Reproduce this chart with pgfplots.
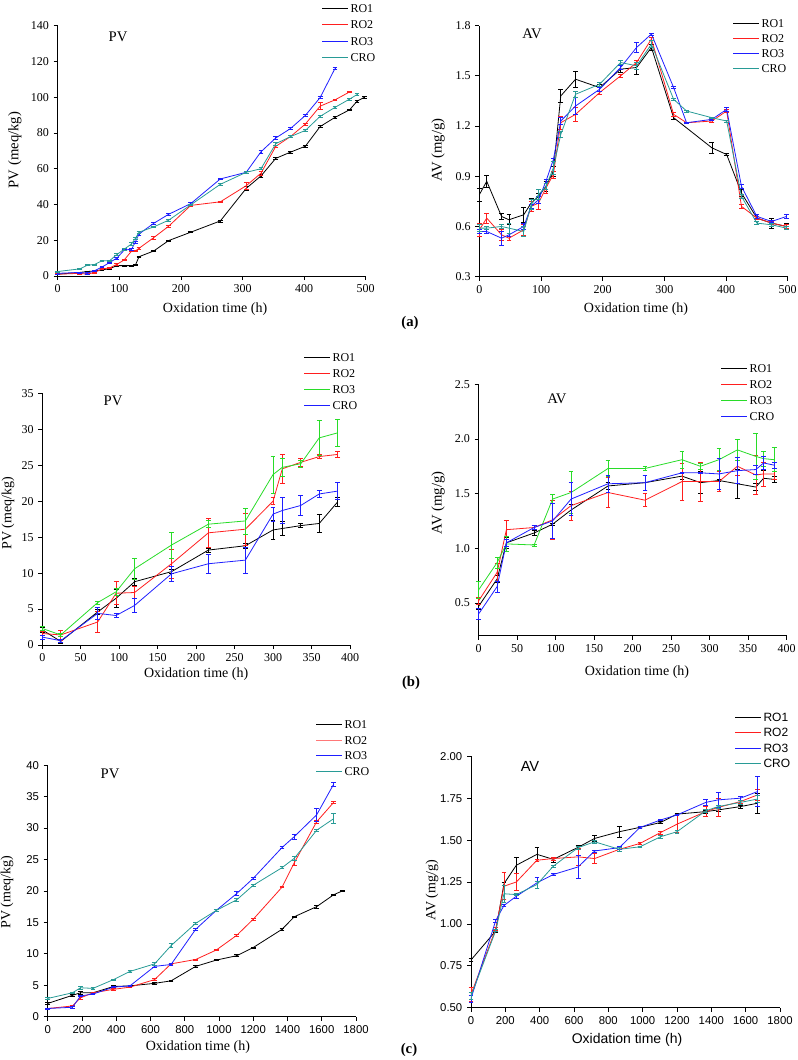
\documentclass[border=0pt]{standalone}
\usepackage{fontspec}
\setmainfont{Liberation Serif}
\setsansfont{Liberation Sans}
\usepackage{pgfplots}
\pgfplotsset{compat=1.18}

\definecolor{cred}{RGB}{255,30,30}
\definecolor{cblue}{RGB}{30,30,255}
\definecolor{cteal}{RGB}{40,155,150}
\definecolor{cgreen}{RGB}{40,220,40}

\pgfplotsset{
  base/.style={
    scale only axis, anchor=south west, clip=false,
    axis x line*=bottom, axis y line*=left,
    axis line style={-, line width=0.6pt},
    every tick/.style={black, line width=0.6pt},
    tick align=outside, major tick length=3pt,
    /pgf/number format/assume math mode=true,
    /pgf/number format/1000 sep={},
    tick label style={font=\fontsize{9}{10}\selectfont},
    label style={font=\fontsize{10.5}{12}\selectfont},
    xlabel={Oxidation time (h)},
  },
  ser/.style={color=#1, no marks, line width=0.6pt,
    error bars/y dir=both, error bars/y explicit,
    error bars/error bar style={line width=0.5pt},
    error bars/error mark options={rotate=90, mark size=1.8pt, line width=0.5pt}},
}
% legend row: x px, y px (row centre), colour, text
\newcommand{\legfont}{\fontsize{9}{10}\selectfont}
\newcommand{\legrow}[4]{\draw[#3, line width=0.75pt] ({#1*0.75pt},{-#2*0.75pt}) -- ++(19.5pt,0pt)
  node[right, inner sep=1.5pt, text=black, font=\legfont] {#4};}

\begin{document}
\begin{tikzpicture}
\useasboundingbox (0,0) rectangle (597.75pt,-795pt);

% ---------- (a) PV
\begin{axis}[base, at={(43.28pt,-207pt)}, width=231pt, height=187.7pt,
  xmin=0, xmax=500, xtick={0,100,...,500},
  ymin=0, ymax=140, ytick={0,20,...,140},
  ylabel={PV (meq/kg)},
  ylabel style={at={(axis description cs:-0.139,0.503)}, anchor=center, font=\fontsize{11}{12}\selectfont},
  xlabel style={at={(axis description cs:0.511,-0.132)}, anchor=center}]
\addplot[ser=black] coordinates {
 (0,1.0) +- (0,0.3) (36,2.0) +- (0,0.3) (48,2.5) +- (0,0.3) (60,2.8) +- (0,0.3)
 (72,3.5) +- (0,0.3) (84,4.0) +- (0,0.3) (96,5.8) +- (0,0.4) (108,5.8) +- (0,0.3)
 (120,5.8) +- (0,0.3) (126,6.0) +- (0,0.3) (132,10.8) +- (0,0.4) (156,14.0) +- (0,0.4)
 (180,19.8) +- (0,0.4) (216,24.5) +- (0,0.3) (264,30.8) +- (0,0.5) (306,49.0) +- (0,1.0)
 (330,56.0) +- (0,0.6) (354,65.8) +- (0,0.4) (378,69.3) +- (0,0.4) (402,72.6) +- (0,0.5)
 (426,83.6) +- (0,0.6) (450,88.7) +- (0,0.4) (474,93.0) +- (0,0.4) (486,97.8) +- (0,0.4)
 (498,100.0) +- (0,0.4)};
\addplot[ser=cred] coordinates {
 (0,1.0) +- (0,0.3) (36,1.5) +- (0,0.3) (48,1.0) +- (0,0.3) (60,2.0) +- (0,0.3)
 (72,4.0) +- (0,0.3) (84,4.5) +- (0,0.3) (96,6.5) +- (0,0.5) (108,9.0) +- (0,0.4)
 (120,14.0) +- (0,0.4) (126,14.0) +- (0,0.3) (132,15.5) +- (0,0.5) (156,21.5) +- (0,0.8)
 (180,27.8) +- (0,0.7) (216,39.5) +- (0,0.5) (264,41.5) +- (0,0.4) (306,50.5) +- (0,2.0)
 (330,57.5) +- (0,1.0) (354,72.5) +- (0,0.8) (378,78.0) +- (0,0.6) (402,85.0) +- (0,0.6)
 (426,95.0) +- (0,2.0) (450,98.5) +- (0,0.5) (474,103.0) +- (0,0.4)};
\addplot[ser=cblue] coordinates {
 (0,1.5) +- (0,0.3) (36,2.0) +- (0,0.3) (48,1.5) +- (0,0.3) (60,3.0) +- (0,0.3)
 (72,5.0) +- (0,0.3) (84,7.5) +- (0,0.4) (96,10.0) +- (0,0.4) (108,14.5) +- (0,0.4)
 (120,15.0) +- (0,0.4) (126,19.0) +- (0,0.6) (132,23.5) +- (0,0.6) (156,29.5) +- (0,0.5)
 (180,34.5) +- (0,0.5) (216,40.5) +- (0,0.5) (264,54.3) +- (0,0.4) (306,58.0) +- (0,0.4)
 (330,69.5) +- (0,0.6) (354,77.2) +- (0,0.8) (378,82.5) +- (0,0.6) (402,89.8) +- (0,0.6)
 (426,99.8) +- (0,0.6) (450,116.0) +- (0,0.5)};
\addplot[ser=cteal] coordinates {
 (0,2.5) +- (0,0.3) (36,4.0) +- (0,0.3) (48,6.0) +- (0,0.3) (60,6.5) +- (0,0.3)
 (72,8.5) +- (0,0.4) (84,8.5) +- (0,0.4) (96,12.0) +- (0,0.5) (108,15.0) +- (0,0.5)
 (120,18.0) +- (0,0.6) (126,21.0) +- (0,0.6) (132,24.5) +- (0,0.6) (156,27.5) +- (0,0.5)
 (180,31.2) +- (0,0.5) (216,39.8) +- (0,0.5) (264,51.3) +- (0,0.5) (306,58.0) +- (0,0.5)
 (330,60.0) +- (0,0.6) (354,74.0) +- (0,0.8) (378,78.0) +- (0,0.5) (402,81.4) +- (0,0.5)
 (426,89.3) +- (0,0.8) (450,94.3) +- (0,0.5) (474,99.0) +- (0,0.5) (486,101.5) +- (0,0.5)};
\node[font=\fontsize{11}{12}\selectfont] at (axis description cs:0.196,0.955) {PV};
\end{axis}

% ---------- (a) AV
\begin{axis}[base, at={(359.5pt,-207.5pt)}, width=231.3pt, height=188.25pt,
  xmin=0, xmax=500, xtick={0,100,...,500},
  ymin=0.3, ymax=1.8, ytick={0.3,0.6,0.9,1.2,1.5,1.8},
  yticklabel style={/pgf/number format/.cd, fixed, fixed zerofill, precision=1},
  ylabel={AV (mg/g)},
  ylabel style={at={(axis description cs:-0.134,0.505)}, anchor=center, font=\fontsize{11}{12}\selectfont},
  xlabel style={at={(axis description cs:0.508,-0.129)}, anchor=center}]
\addplot[ser=black] coordinates {
 (0,0.79) +- (0,0.04) (12,0.87) +- (0,0.035) (36,0.66) +- (0,0.02) (48,0.64) +- (0,0.03)
 (72,0.67) +- (0,0.045) (84,0.74) +- (0,0.03) (96,0.78) +- (0,0.02) (108,0.84) +- (0,0.03)
 (120,0.93) +- (0,0.03) (132,1.38) +- (0,0.04) (156,1.48) +- (0,0.05) (195,1.43) +- (0,0.02)
 (229,1.54) +- (0,0.02) (255,1.55) +- (0,0.04) (279,1.67) +- (0,0.02) (315,1.25) +- (0,0.01)
 (377,1.07) +- (0,0.03) (401,1.03) +- (0,0.005) (425,0.80) +- (0,0.02) (450,0.65) +- (0,0.01)
 (474,0.62) +- (0,0.03) (498,0.60) +- (0,0.02)};
\addplot[ser=cred] coordinates {
 (0,0.58) +- (0,0.04) (12,0.65) +- (0,0.03) (36,0.55) +- (0,0.03) (48,0.53) +- (0,0.01)
 (72,0.58) +- (0,0.03) (84,0.72) +- (0,0.03) (96,0.74) +- (0,0.04) (108,0.83) +- (0,0.03)
 (120,0.91) +- (0,0.02) (132,1.22) +- (0,0.04) (156,1.27) +- (0,0.04) (195,1.40) +- (0,0.01)
 (229,1.50) +- (0,0.01) (255,1.58) +- (0,0.01) (279,1.72) +- (0,0.01) (315,1.27) +- (0,0.01)
 (336,1.22) +- (0,0.005) (377,1.23) +- (0,0.01) (401,1.29) +- (0,0.01) (425,0.72) +- (0,0.01)
 (450,0.65) +- (0,0.01) (474,0.62) +- (0,0.01) (498,0.60) +- (0,0.01)};
\addplot[ser=cblue] coordinates {
 (0,0.57) +- (0,0.01) (12,0.57) +- (0,0.01) (36,0.53) +- (0,0.04) (48,0.55) +- (0,0.01)
 (72,0.60) +- (0,0.02) (84,0.72) +- (0,0.01) (96,0.76) +- (0,0.02) (108,0.87) +- (0,0.01)
 (120,1.00) +- (0,0.01) (132,1.23) +- (0,0.02) (156,1.32) +- (0,0.05) (195,1.42) +- (0,0.01)
 (229,1.55) +- (0,0.01) (255,1.67) +- (0,0.03) (279,1.75) +- (0,0.005) (315,1.43) +- (0,0.005)
 (336,1.22) +- (0,0.005) (377,1.24) +- (0,0.005) (401,1.30) +- (0,0.01) (425,0.84) +- (0,0.01)
 (450,0.66) +- (0,0.01) (474,0.63) +- (0,0.005) (498,0.66) +- (0,0.01)};
\addplot[ser=cteal] coordinates {
 (0,0.59) +- (0,0.02) (12,0.59) +- (0,0.01) (36,0.60) +- (0,0.01) (48,0.59) +- (0,0.03)
 (72,0.57) +- (0,0.03) (84,0.73) +- (0,0.03) (96,0.79) +- (0,0.03) (108,0.84) +- (0,0.02)
 (120,0.95) +- (0,0.04) (132,1.15) +- (0,0.02) (156,1.39) +- (0,0.02) (195,1.45) +- (0,0.01)
 (229,1.58) +- (0,0.01) (255,1.56) +- (0,0.02) (279,1.69) +- (0,0.02) (315,1.36) +- (0,0.005)
 (336,1.29) +- (0,0.005) (377,1.25) +- (0,0.005) (401,1.23) +- (0,0.005) (425,0.78) +- (0,0.01)
 (450,0.62) +- (0,0.01) (474,0.61) +- (0,0.01) (498,0.59) +- (0,0.01)};
\node[font=\fontsize{11}{12}\selectfont] at (axis description cs:0.171,0.968) {AV};
\end{axis}

% ---------- (b) PV
\begin{axis}[base, at={(31.7pt,-483.75pt)}, width=230.8pt, height=188.8pt,
  xmin=0, xmax=400, xtick={0,50,...,400},
  ymin=0, ymax=35, ytick={0,5,...,35},
  ylabel={PV (meq/kg)},
  ylabel style={at={(axis description cs:-0.111,0.524)}, anchor=center},
  xlabel style={at={(axis description cs:0.5,-0.115)}, anchor=center}]
\addplot[ser=black] coordinates {
 (0,2.1) +- (0,0.3) (24,0.5) +- (0,0.2) (72,4.6) +- (0,0.3) (96,6.5) +- (0,1.3)
 (120,8.8) +- (0,0.5) (168,10.2) +- (0,0.3) (216,13.2) +- (0,0.3) (264,13.8) +- (0,0.3)
 (300,16.0) +- (0,1.3) (312,16.2) +- (0,1.0) (336,16.6) +- (0,0.3) (360,16.9) +- (0,1.2)
 (384,19.9) +- (0,0.6)};
\addplot[ser=cred] coordinates {
 (0,1.6) +- (0,0.3) (24,1.4) +- (0,0.7) (72,3.2) +- (0,1.5) (96,7.2) +- (0,1.6)
 (120,7.3) +- (0,0.8) (168,11.3) +- (0,2.0) (216,15.6) +- (0,2.0) (264,16.1) +- (0,2.2)
 (300,20.0) +- (0,0.5) (312,24.5) +- (0,2.0) (336,25.4) +- (0,0.5) (360,26.2) +- (0,0.3)
 (384,26.5) +- (0,0.4)};
\addplot[ser=cgreen] coordinates {
 (0,2.3) +- (0,0.3) (24,1.4) +- (0,0.2) (72,5.9) +- (0,0.2) (96,7.4) +- (0,0.5)
 (120,10.6) +- (0,1.5) (168,13.9) +- (0,1.8) (216,16.8) +- (0,0.5) (264,17.25) +- (0,1.8)
 (300,23.7) +- (0,2.6) (312,24.7) +- (0,1.2) (336,25.2) +- (0,0.5) (360,28.8) +- (0,2.4)
 (384,29.5) +- (0,1.9)};
\addplot[ser=cblue] coordinates {
 (0,1.1) +- (0,0.3) (24,0.6) +- (0,0.2) (72,4.4) +- (0,0.8) (96,4.1) +- (0,0.3)
 (120,5.5) +- (0,1.0) (168,9.9) +- (0,1.0) (216,11.3) +- (0,1.3) (264,11.8) +- (0,1.8)
 (300,18.2) +- (0,1.0) (312,18.7) +- (0,1.8) (336,19.4) +- (0,1.4) (360,21.0) +- (0,0.5)
 (384,21.4) +- (0,1.2)};
\node[font=\fontsize{11}{12}\selectfont] at (axis description cs:0.23,0.97) {PV};
\end{axis}

% ---------- (b) AV
\begin{axis}[base, at={(359pt,-476.8pt)}, width=231pt, height=188.6pt,
  xmin=0, xmax=400, xtick={0,50,...,400},
  ymin=0.2, ymax=2.5, ytick={0.5,1.0,1.5,2.0,2.5},
  yticklabel style={/pgf/number format/.cd, fixed, fixed zerofill, precision=1},
  ylabel={AV (mg/g)},
  ylabel style={at={(axis description cs:-0.132,0.528)}, anchor=center, font=\fontsize{11}{12}\selectfont},
  xlabel style={at={(axis description cs:0.514,-0.144)}, anchor=center}]
\addplot[ser=black] coordinates {
 (0,0.47) +- (0,0.03) (24,0.72) +- (0,0.03) (36,1.05) +- (0,0.05) (72,1.14) +- (0,0.02)
 (96,1.22) +- (0,0.01) (120,1.35) +- (0,0.05) (168,1.57) +- (0,0.03) (216,1.60) +- (0,0.07)
 (264,1.66) +- (0,0.03) (288,1.60) +- (0,0.10) (312,1.62) +- (0,0.01) (336,1.59) +- (0,0.13)
 (360,1.56) +- (0,0.03) (370,1.64) +- (0,0.07) (384,1.63) +- (0,0.03)};
\addplot[ser=cred] coordinates {
 (0,0.52) +- (0,0.03) (24,0.78) +- (0,0.08) (36,1.17) +- (0,0.09) (72,1.19) +- (0,0.02)
 (96,1.26) +- (0,0.18) (120,1.39) +- (0,0.13) (168,1.51) +- (0,0.14) (216,1.44) +- (0,0.06)
 (264,1.61) +- (0,0.17) (288,1.61) +- (0,0.18) (312,1.61) +- (0,0.09) (336,1.75) +- (0,0.08)
 (360,1.67) +- (0,0.18) (370,1.68) +- (0,0.11) (384,1.68) +- (0,0.05)};
\addplot[ser=cgreen] coordinates {
 (0,0.62) +- (0,0.08) (24,0.87) +- (0,0.05) (36,1.04) +- (0,0.07) (72,1.03) +- (0,0.01)
 (96,1.45) +- (0,0.04) (120,1.51) +- (0,0.19) (168,1.73) +- (0,0.07) (216,1.73) +- (0,0.02)
 (264,1.81) +- (0,0.08) (288,1.75) +- (0,0.03) (312,1.81) +- (0,0.10) (336,1.90) +- (0,0.10)
 (360,1.84) +- (0,0.21) (370,1.82) +- (0,0.07) (384,1.81) +- (0,0.11)};
\addplot[ser=cblue] coordinates {
 (0,0.40) +- (0,0.05) (24,0.65) +- (0,0.05) (36,1.05) +- (0,0.03) (72,1.19) +- (0,0.02)
 (96,1.25) +- (0,0.16) (120,1.45) +- (0,0.15) (168,1.59) +- (0,0.08) (216,1.60) +- (0,0.07)
 (264,1.69) +- (0,0.005) (288,1.69) +- (0,0.005) (312,1.68) +- (0,0.14) (336,1.71) +- (0,0.12)
 (360,1.72) +- (0,0.04) (370,1.78) +- (0,0.06) (384,1.76) +- (0,0.03)};
\node[font=\fontsize{11}{12}\selectfont] at (axis description cs:0.254,0.942) {AV};
\end{axis}

% ---------- (c) PV
\begin{axis}[base, at={(35.8pt,-762.5pt)}, width=231.2pt, height=188.6pt,
  xmin=0, xmax=1800, xtick={0,200,...,1800},
  ymin=0, ymax=40, ytick={0,5,...,40},
  tick label style={font=\sffamily\fontsize{8.5}{10}\selectfont},
  ylabel={PV (meq/kg)},
  ylabel style={at={(axis description cs:-0.132,0.495)}, anchor=center},
  xlabel style={at={(axis description cs:0.487,-0.121)}, anchor=center}]
\addplot[ser=black] coordinates {
 (0,2.1) +- (0,0.15) (144,3.4) +- (0,0.2) (192,3.8) +- (0,0.2) (264,3.8) +- (0,0.1)
 (384,4.8) +- (0,0.15) (480,4.9) +- (0,0.1) (624,5.3) +- (0,0.15) (720,5.7) +- (0,0.15)
 (864,8.0) +- (0,0.1) (984,9.0) +- (0,0.1) (1104,9.7) +- (0,0.15) (1200,11.0) +- (0,0.1)
 (1368,13.9) +- (0,0.15) (1440,15.9) +- (0,0.1) (1570,17.5) +- (0,0.2) (1670,19.4) +- (0,0.1)
 (1720,20.0) +- (0,0.1)};
\addplot[ser=cred] coordinates {
 (0,1.3) +- (0,0.1) (144,1.7) +- (0,0.1) (192,3.0) +- (0,0.2) (264,3.8) +- (0,0.1)
 (384,4.35) +- (0,0.15) (480,4.7) +- (0,0.1) (624,5.9) +- (0,0.15) (720,8.4) +- (0,0.1)
 (864,9.1) +- (0,0.1) (984,10.6) +- (0,0.1) (1104,12.95) +- (0,0.15) (1200,15.5) +- (0,0.2)
 (1368,20.6) +- (0,0.1) (1440,24.5) +- (0,0.4) (1570,31.0) +- (0,0.3) (1670,34.1) +- (0,0.1)};
\addplot[ser=cblue] coordinates {
 (0,1.3) +- (0,0.1) (144,1.5) +- (0,0.15) (192,3.3) +- (0,0.1) (264,3.6) +- (0,0.1)
 (384,4.7) +- (0,0.1) (480,4.9) +- (0,0.1) (624,8.0) +- (0,0.2) (720,8.3) +- (0,0.2)
 (864,13.9) +- (0,0.2) (984,16.9) +- (0,0.1) (1104,19.6) +- (0,0.3) (1200,22.0) +- (0,0.15)
 (1368,26.9) +- (0,0.15) (1440,28.65) +- (0,0.4) (1570,32.1) +- (0,1.1) (1670,37.0) +- (0,0.35)};
\addplot[ser=cteal] coordinates {
 (0,2.9) +- (0,0.1) (144,3.8) +- (0,0.1) (192,4.6) +- (0,0.2) (264,4.5) +- (0,0.1)
 (384,5.9) +- (0,0.1) (480,7.2) +- (0,0.2) (624,8.4) +- (0,0.2) (720,11.3) +- (0,0.3)
 (864,14.85) +- (0,0.2) (984,16.9) +- (0,0.1) (1104,18.6) +- (0,0.3) (1200,20.9) +- (0,0.1)
 (1368,23.7) +- (0,0.15) (1440,25.2) +- (0,0.3) (1570,29.65) +- (0,0.15) (1670,31.5) +- (0,0.8)};
\node[font=\fontsize{11}{12}\selectfont] at (axis description cs:0.202,0.964) {PV};
\end{axis}

% ---------- (c) AV
\begin{axis}[base, at={(353.25pt,-755.8pt)}, width=231.75pt, height=188.6pt,
  xmin=0, xmax=1800, xtick={0,200,...,1800},
  ymin=0.5, ymax=2.0, ytick={0.5,0.75,1.0,1.25,1.5,1.75,2.0},
  tick label style={font=\sffamily\fontsize{8.5}{10}\selectfont},
  yticklabel style={/pgf/number format/.cd, fixed, fixed zerofill, precision=2},
  ylabel={AV (mg/g)},
  ylabel style={at={(axis description cs:-0.126,0.468)}, anchor=center},
  xlabel style={at={(axis description cs:0.505,-0.128)}, anchor=center, font=\sffamily\fontsize{10.5}{12}\selectfont}]
\addplot[ser=black] coordinates {
 (0,0.785) +- (0,0.01) (144,0.958) +- (0,0.01) (192,1.24) +- (0,0.01) (264,1.35) +- (0,0.05)
 (384,1.415) +- (0,0.04) (480,1.385) +- (0,0.015) (624,1.457) +- (0,0.01) (720,1.51) +- (0,0.02)
 (864,1.55) +- (0,0.035) (984,1.576) +- (0,0.005) (1104,1.605) +- (0,0.005) (1200,1.655) +- (0,0.005)
 (1368,1.67) +- (0,0.01) (1440,1.68) +- (0,0.01) (1570,1.70) +- (0,0.01) (1670,1.72) +- (0,0.06)};
\addplot[ser=cred] coordinates {
 (0,0.58) +- (0,0.04) (144,0.97) +- (0,0.01) (192,1.225) +- (0,0.08) (264,1.25) +- (0,0.05)
 (384,1.38) +- (0,0.005) (480,1.39) +- (0,0.01) (624,1.40) +- (0,0.05) (720,1.39) +- (0,0.03)
 (864,1.445) +- (0,0.01) (984,1.48) +- (0,0.005) (1104,1.545) +- (0,0.01) (1200,1.595) +- (0,0.05)
 (1368,1.67) +- (0,0.03) (1440,1.695) +- (0,0.055) (1570,1.73) +- (0,0.01) (1670,1.77) +- (0,0.03)};
\addplot[ser=cblue] coordinates {
 (0,0.555) +- (0,0.02) (144,1.02) +- (0,0.01) (192,1.11) +- (0,0.005) (264,1.165) +- (0,0.01)
 (384,1.245) +- (0,0.035) (480,1.295) +- (0,0.005) (624,1.34) +- (0,0.07) (720,1.435) +- (0,0.005)
 (864,1.455) +- (0,0.01) (984,1.575) +- (0,0.005) (1104,1.62) +- (0,0.005) (1200,1.65) +- (0,0.005)
 (1368,1.725) +- (0,0.02) (1440,1.74) +- (0,0.045) (1570,1.75) +- (0,0.01) (1670,1.79) +- (0,0.09)};
\addplot[ser=cteal] coordinates {
 (0,0.57) +- (0,0.02) (144,0.96) +- (0,0.005) (192,1.18) +- (0,0.05) (264,1.175) +- (0,0.005)
 (384,1.235) +- (0,0.02) (480,1.345) +- (0,0.005) (624,1.455) +- (0,0.01) (720,1.49) +- (0,0.01)
 (864,1.445) +- (0,0.01) (984,1.46) +- (0,0.005) (1104,1.52) +- (0,0.01) (1200,1.55) +- (0,0.01)
 (1368,1.675) +- (0,0.01) (1440,1.70) +- (0,0.01) (1570,1.725) +- (0,0.01) (1670,1.745) +- (0,0.02)};
\node[font=\sffamily\fontsize{11}{12}\selectfont] at (axis description cs:0.191,0.958) {AV};
\end{axis}

% ---------- legends
\legrow{322}{8.5}{black}{RO1}
\legrow{322}{24.5}{cred}{RO2}
\legrow{322}{41.5}{cblue}{RO3}
\legrow{322}{57.5}{cteal}{CRO}

\legrow{733}{23.5}{black}{RO1}
\legrow{733}{38.5}{cred}{RO2}
\legrow{733}{53.5}{cblue}{RO3}
\legrow{733}{68.5}{cteal}{CRO}

\legrow{304}{357.5}{black}{RO1}
\legrow{304}{373.5}{cred}{RO2}
\legrow{304}{389.5}{cgreen}{RO3}
\legrow{304}{405.5}{cblue}{CRO}

\legrow{721}{368.5}{black}{RO1}
\legrow{721}{384.5}{cred}{RO2}
\legrow{721}{400.5}{cgreen}{RO3}
\legrow{721}{416.5}{cblue}{CRO}

\legrow{316}{724.5}{black}{RO1}
\legrow{316}{740.5}{cred!60}{RO2}
\legrow{316}{755.5}{cblue}{RO3}
\legrow{316}{771.5}{cteal}{CRO}

\renewcommand{\legfont}{\sffamily\fontsize{9}{10}\selectfont}
\legrow{735}{717.5}{black}{RO1}
\legrow{735}{732.5}{cred}{RO2}
\legrow{735}{748.5}{cblue}{RO3}
\legrow{735}{763.5}{cteal}{CRO}

\node[font=\bfseries\fontsize{11}{12}\selectfont] at (307.5pt,-242.25pt) {(a)};
\node[font=\bfseries\fontsize{11}{12}\selectfont] at (308.25pt,-512.25pt) {(b)};
\node[font=\bfseries\fontsize{11}{12}\selectfont] at (306.75pt,-787.5pt) {(c)};
\end{tikzpicture}
\end{document}
